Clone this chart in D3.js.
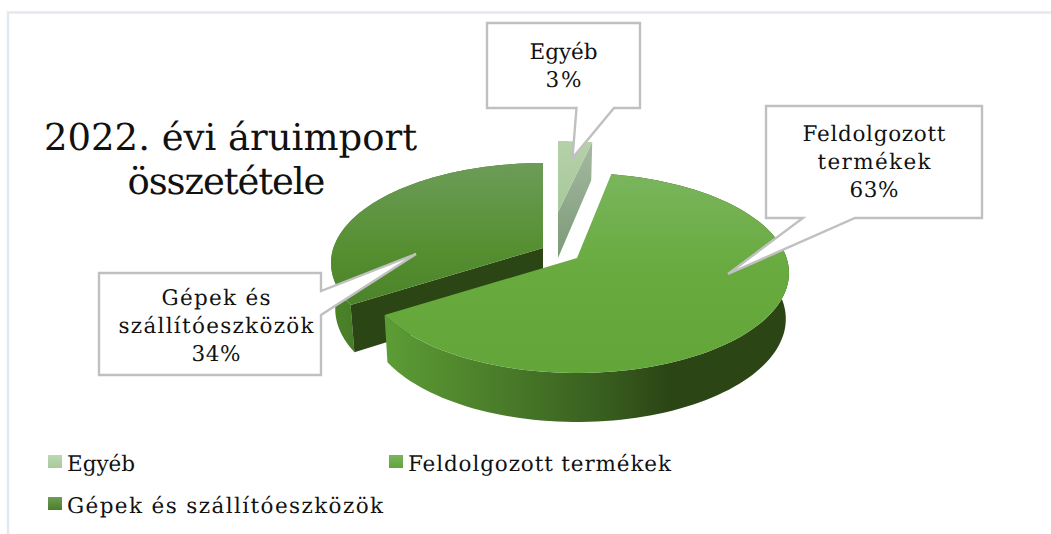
<!DOCTYPE html>
<html><head><meta charset="utf-8">
<script src="https://cdn.jsdelivr.net/npm/d3@7"></script>
<style>html,body{margin:0;padding:0;background:#fff}svg{display:block}
text{font-family:"DejaVu Serif",serif;fill:#111;text-rendering:geometricPrecision}</style>
</head><body><svg id="c" width="1051" height="534"></svg>
<script>
const categories = ["Egyéb", "Feldolgozott termékek", "Gépek és szállítóeszközök"];
const values = [3, 63, 34];
const labelLines = [["Egyéb", "3%"], ["Feldolgozott", "termékek", "63%"], ["Gépek és", "szállítóeszközök", "34%"]];
const titleLines = ["2022. évi áruimport", "összetétele"];

const svg = d3.select("#c"), defs = svg.append("defs");
const W = 1051, H = 534;

function grad(id, horizontal, x0, x1, stops) {
  const g = defs.append("linearGradient").attr("id", id).attr("gradientUnits", "userSpaceOnUse");
  if (horizontal) g.attr("x1", x0).attr("x2", x1).attr("y1", 0).attr("y2", 0);
  else g.attr("x1", 0).attr("x2", 0).attr("y1", x0).attr("y2", x1);
  stops.forEach(s => g.append("stop").attr("offset", s[0]).attr("stop-color", s[1]));
}
grad("tE", false, 141, 212, [[0, "#b4d1a8"], [1, "#a9c89d"]]);
grad("sE", false, 145, 258, [[0, "#a4b89f"], [1, "#7c9a78"]]);
grad("tF", false, 173, 373, [[0, "#7ab55d"], [0.5, "#68aa3e"], [1, "#62a538"]]);
grad("sF", true, 387, 670, [[0, "#5c9c35"], [0.4, "#4a7c29"], [0.75, "#395f1f"], [1, "#2b4515"]]);
grad("tG", false, 164, 320, [[0, "#6c9c58"], [0.55, "#558f30"], [1, "#4a8029"]]);
grad("sG", true, 333, 360, [[0, "#4c8429"], [1, "#467a27"]]);
grad("lE", false, 455, 468, [[0, "#bcd8b0"], [1, "#a9c99c"]]);
grad("lF", false, 455, 468, [[0, "#7ab55d"], [1, "#62a538"]]);
grad("lG", false, 497, 510, [[0, "#6c9c58"], [1, "#4a8029"]]);

// outer frame (only top and left sides are visible)
svg.append("path").attr("d", `M${W},12.5H8V${H}`).attr("fill", "none").attr("stroke", "#e4e9ef").attr("stroke-width", 2.5);

// perspective projection of the pie plane
const A = 209.6, B = 97.75, K = 0.15;
function ring(o, ang, bottom) {
  const u = Math.sin(ang), v = -Math.cos(ang), w = 1 - K * v;
  const sx = bottom ? o.bx : 1, sy = (bottom ? o.by : 1) * o.squash;
  return [o.ax + A * u / w * sx, o.ay + B * v / w * sy + (bottom ? o.depth : 0)];
}
const layout = [
  { ax: 558, ay: 212, squash: 0.835, depth: 46, bx: 0.97, by: 1.11, top: "tE", side: "sE", cut: "sE", cutAt: "end", sideShown: false },
  { ax: 577, ay: 258, squash: 1, depth: 45.5, bx: 0.985, by: 1.03, top: "tF", side: "sF", cut: null, sideShown: true },
  { ax: 543, ay: 248, squash: 1, depth: 45.5, bx: 0.98, by: 1.03, top: "tG", side: "sG", cut: "#2b4515", cutAt: "start", sideShown: true }
];
const arcs = d3.pie().sort(null)(values);
const line = d3.line();
const N = 120;
function arcPts(o, a0, a1, bottom) { return d3.range(N + 1).map(i => ring(o, a0 + (a1 - a0) * i / N, bottom)); }

const pieG = svg.append("g");
[0, 2, 1].forEach(i => {
  const o = layout[i], a = arcs[i], g = pieG.append("g");
  const fill = c => c.startsWith("#") ? c : `url(#${c})`;
  if (o.sideShown) {
    g.append("path").attr("d", line([...arcPts(o, a.startAngle, a.endAngle, false), ...arcPts(o, a.startAngle, a.endAngle, true).reverse()]) + "Z").attr("fill", fill(o.side));
  }
  if (o.cut) {
    const e = o.cutAt === "end" ? a.endAngle : a.startAngle;
    g.append("path").attr("d", line([[o.ax, o.ay], ring(o, e, false), ring(o, e, true), [o.ax, o.ay + o.depth]]) + "Z").attr("fill", fill(o.cut));
  }
  g.append("path").attr("d", line([[o.ax, o.ay], ...arcPts(o, a.startAngle, a.endAngle, false)]) + "Z").attr("fill", fill(o.top));
});

// text placed at a measured start position and width
function fitText(x, y, size, width, str, anchor) {
  return svg.append("text").attr("x", x).attr("y", y).attr("font-size", size).attr("text-anchor", anchor || "start")
    .attr("textLength", width).attr("lengthAdjust", "spacing").text(str);
}

// callouts
const callouts = [
  { x0: 487, y0: 23, x1: 640, y1: 108, tail: [[614, 108], [572.5, 158], [576.5, 108]], cx: 563.5, base: [59, 87], w: [68, 36] },
  { x0: 766, y0: 106, x1: 982, y1: 218, tail: [[855, 218], [728, 274], [803, 218]], cx: 874, base: [141, 169, 197], w: [143, 113, 49] },
  { x0: 99, y0: 273, x1: 321, y1: 375, tail: [[321, 291], [416, 254], [321, 315]], cx: 216, base: [305, 333, 361], w: [109, 195, 49], side: "r" }
];
callouts.forEach((c, i) => {
  let pts;
  if (c.side === "r") pts = [[c.x0, c.y0], [c.x1, c.y0], ...c.tail, [c.x1, c.y1], [c.x0, c.y1]];
  else pts = [[c.x0, c.y0], [c.x1, c.y0], [c.x1, c.y1], ...c.tail, [c.x0, c.y1]];
  svg.append("path").attr("d", line(pts) + "Z").attr("fill", "#fff").attr("stroke", "#c0c0c0").attr("stroke-width", 2.4).attr("stroke-linejoin", "miter");
  labelLines[i].forEach((t, j) => fitText(c.cx, c.base[j], 21.5, c.w[j], t, "middle"));
});

// title
fitText(44, 150, 37, 373, titleLines[0]);
fitText(127.5, 194, 37, 198, titleLines[1]);

// legend
const legendPos = [[48, 471], [389, 471], [48, 513]];
const legendW = [68, 263, 316];
categories.forEach((t, i) => {
  const [x, b] = legendPos[i];
  svg.append("rect").attr("x", x).attr("y", b - 16).attr("width", 14).attr("height", 13).attr("fill", `url(#${["lE", "lF", "lG"][i]})`);
  fitText(x + 19, b, 21.5, legendW[i], t);
});
</script></body></html>
